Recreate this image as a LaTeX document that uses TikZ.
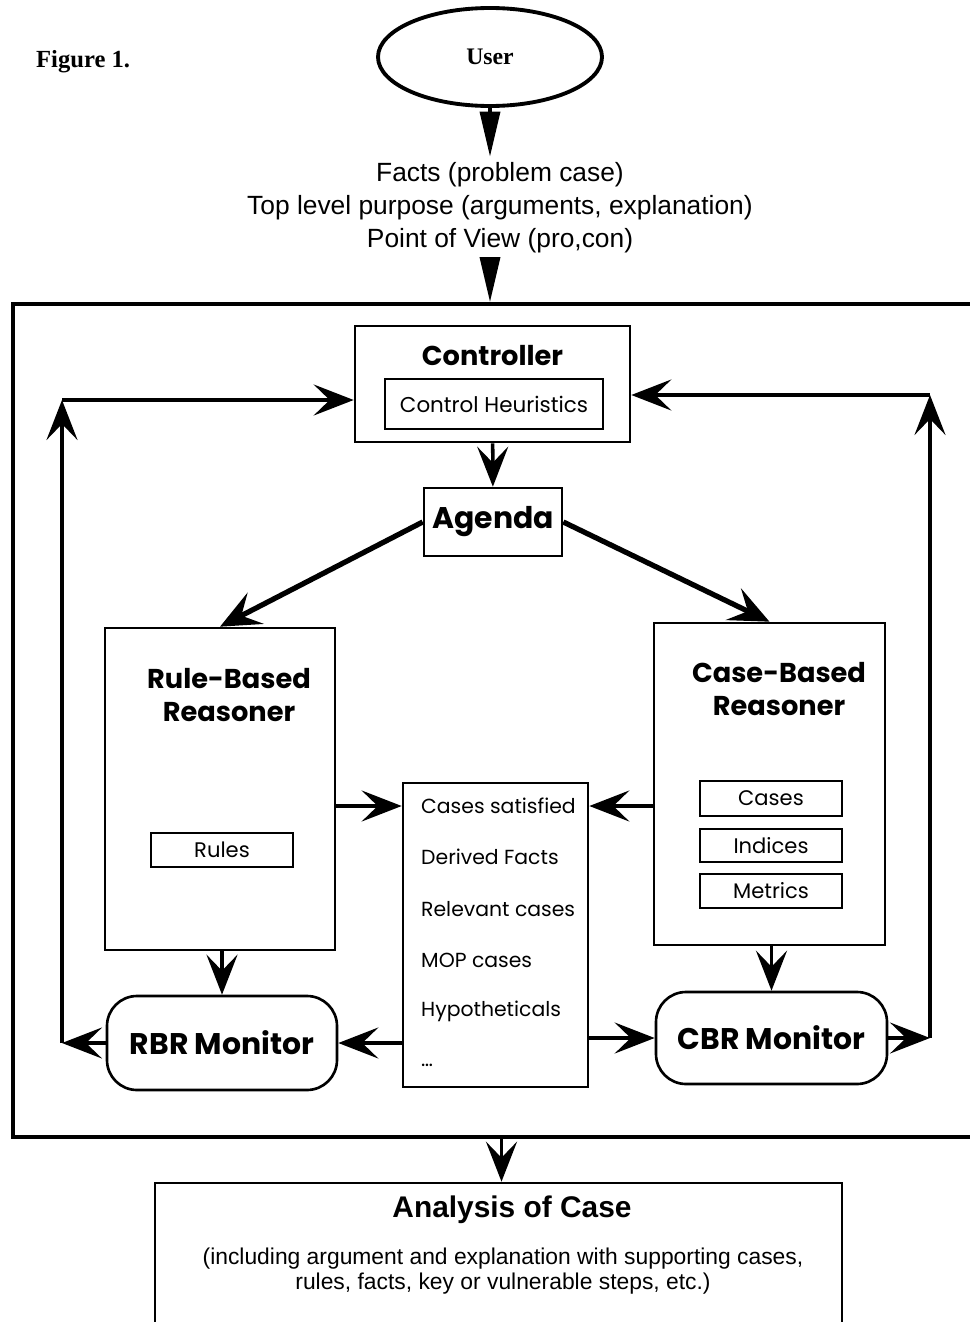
\documentclass[tikz,border=0pt]{standalone}
\usepackage{fontspec}
\setmainfont{Liberation Sans}
\newfontfamily\gothic{Poppins}
\newfontfamily\serifb{Liberation Serif}
\usetikzlibrary{arrows.meta,shapes.geometric}
\begin{document}
\begin{tikzpicture}[
        box/.style={draw, line width=1.5pt, inner sep=0pt},
        smallbox/.style={draw, line width=1.4pt, font=\gothic\fontsize{12}{14}\selectfont},
        mon/.style={draw, line width=1.5pt, rounded corners=0.6cm, font=\gothic\bfseries\fontsize{17}{20}\selectfont},
        title/.style={font=\gothic\bfseries\fontsize{15.5}{19}\selectfont, align=center},
        item/.style={anchor=west, font=\gothic\fontsize{11.6}{14}\selectfont},
        arr/.style={line width=2pt, -{Stealth[length=0.8cm, width=0.62cm, inset=0.32cm]}},
        toparr/.style={line width=2pt, -{Triangle[length=0.9cm, width=0.4cm]}},
        fatarr/.style={line width=3pt, -{Stealth[length=0.8cm, width=0.7cm, inset=0.32cm]}}]
        \useasboundingbox (0,0) rectangle (19.4,-26.44);
        \node[font=\serifb\bfseries\fontsize{14}{16}\selectfont, anchor=west] (fig) at (0.6, -1.24) {Figure 1.};
        \node[ellipse, draw, line width=2.2pt, minimum width=4.48cm, minimum height=1.96cm,
              font=\serifb\bfseries\fontsize{13.5}{16}\selectfont] (user) at (9.80, -1.14) {User};
        \node[font=\fontsize{15}{18.7}\selectfont, align=center] (facts) at (10.0, -4.16)
            {Facts (problem case)\\Top level purpose (arguments, explanation)\\Point of View (pro,con)};
        \node[draw, line width=2.2pt, minimum width=19.54cm, minimum height=16.66cm] (frame) at (10.03, -14.41) {};
        \node[box, minimum width=5.5cm, minimum height=2.32cm] (ctrl) at (9.85, -7.68) {};
        \node[title] (ctrltitle) at (9.85, -7.12) {Controller};
        \node[box, minimum width=4.36cm, minimum height=1.0cm, font=\gothic\fontsize{12.2}{14}\selectfont] (heur) at (9.88, -8.08) {Control Heuristics};
        \node[box, minimum width=2.76cm, minimum height=1.36cm, font=\gothic\bfseries\fontsize{17}{20}\selectfont] (agenda) at (9.86, -10.44) {Agenda};
        \node[box, minimum width=4.6cm, minimum height=6.44cm] (rbr) at (4.40, -15.78) {};
        \node[title] (rbrtitle) at (4.58, -13.9) {Rule-Based\\Reasoner};
        \node[smallbox, minimum width=2.84cm, minimum height=0.68cm] (rules) at (4.44, -17.0) {Rules};
        \node[box, minimum width=4.62cm, minimum height=6.44cm] (cbr) at (15.39, -15.68) {};
        \node[title] (cbrtitle) at (15.58, -13.78) {Case-Based\\Reasoner};
        \node[smallbox, minimum width=2.84cm, minimum height=0.7cm] (cases) at (15.42, -15.97) {Cases};
        \node[smallbox, minimum width=2.84cm, minimum height=0.66cm] (indices) at (15.42, -16.91) {Indices};
        \node[smallbox, minimum width=2.84cm, minimum height=0.68cm] (metrics) at (15.42, -17.82) {Metrics};
        \node[box, minimum width=3.7cm, minimum height=6.08cm] (list) at (9.91, -18.70) {};
        \node[item] (i1) at (8.30, -16.12) {Cases satisfied};
        \node[item] (i2) at (8.30, -17.14) {Derived Facts};
        \node[item] (i3) at (8.30, -18.18) {Relevant cases};
        \node[item] (i4) at (8.30, -19.20) {MOP cases};
        \node[item] (i5) at (8.30, -20.22) {Hypotheticals};
        \node[item] (i6) at (8.30, -21.30) {\dots};
        \node[mon, minimum width=4.6cm, minimum height=1.88cm] (rbrm) at (4.44, -20.86) {RBR Monitor};
        \node[mon, minimum width=4.62cm, minimum height=1.84cm] (cbrm) at (15.43, -20.76) {CBR Monitor};
        \node[box, minimum width=13.74cm, minimum height=4cm] (ana) at (9.97, -25.66) {};
        \node[font=\bfseries\fontsize{17}{20}\selectfont] (anatitle) at (10.24, -24.2) {Analysis of Case};
        \node[font=\fontsize{13}{14.2}\selectfont, align=center] (anatext) at (10.06, -25.42)
            {(including argument and explanation with supporting cases,\\rules, facts, key or vulnerable steps, etc.)};
        \coordinate (lb) at (1.24, -20.86);
        \coordinate (lt) at (1.24, -8.0);
        \coordinate (rb) at (18.6, -20.76);
        \coordinate (rt) at (18.6, -7.9);
        \draw[toparr] (user) -- (user |- facts.north);
        \draw[toparr] (facts.south -| user) -- (user |- frame.north);
        \draw[arr] (ctrl) -- (agenda);
        \draw[fatarr] (agenda.west) -- (rbr.north);
        \draw[fatarr] (agenda.east) -- (cbr.north);
        \draw[arr] (rbr.east |- i1) -- (list.west |- i1);
        \draw[arr] (cbr.west |- i1) -- (list.east |- i1);
        \draw[arr] (rbr.south -| rbrm) -- (rbrm.north);
        \draw[arr] (cbr.south -| cbrm) -- (cbrm.north);
        \draw[arr] (list.west |- rbrm) -- (rbrm.east);
        \draw[arr] (list.east |- cbrm) -- (cbrm.west);
        \draw[arr] (rbrm.west) -- (lb);
        \draw[arr] (lb) -- (lt);
        \draw[arr] (lt) -- (lt -| ctrl.west);
        \draw[arr] (cbrm.east) -- (rb);
        \draw[arr] (rb) -- (rt);
        \draw[arr] (rt) -- (rt -| ctrl.east);
        \draw[arr] (frame.south) -- (frame.south |- ana.north);
\end{tikzpicture}
\end{document}
